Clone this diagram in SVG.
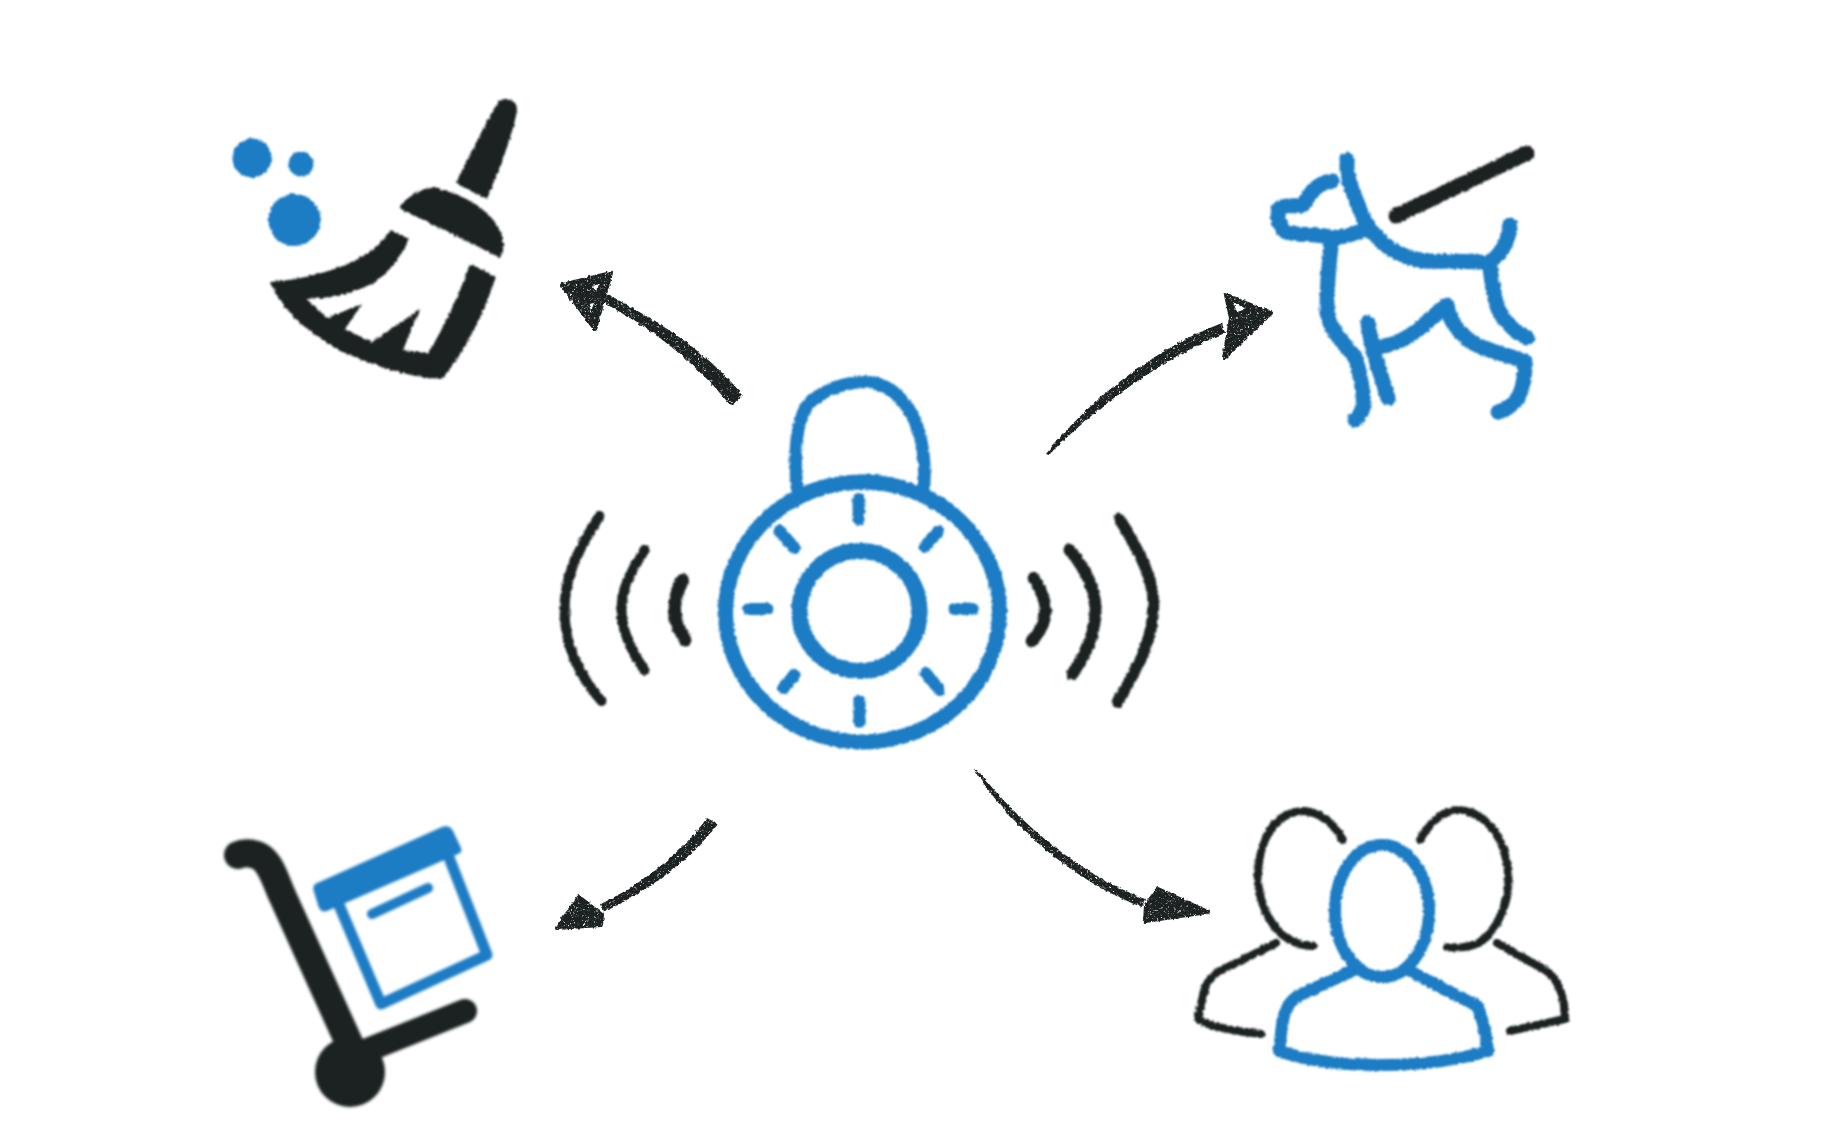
<svg xmlns="http://www.w3.org/2000/svg" width="1827" height="1142" viewBox="0 0 1827 1142">
<style>
.b{fill:none;stroke:#1a7cc4;stroke-linecap:round;stroke-linejoin:round}
.k{fill:none;stroke:#1d2124;stroke-linecap:round;stroke-linejoin:round}
.bf{fill:#1a7cc4}
.kf{fill:#1d2124}
.hd{stroke:#1d2124;stroke-width:4;stroke-linejoin:round}
</style>
<defs>
<filter id="rough" x="-10%" y="-10%" width="120%" height="120%">
<feTurbulence type="fractalNoise" baseFrequency="0.3" numOctaves="2" seed="4" result="n"/>
<feDisplacementMap in="SourceGraphic" in2="n" scale="3.5" xChannelSelector="R" yChannelSelector="G"/>
<feGaussianBlur stdDeviation="0.9"/>
</filter>
<filter id="soft" x="-10%" y="-10%" width="120%" height="120%">
<feGaussianBlur stdDeviation="1.5"/>
</filter>
<filter id="grain" x="-10%" y="-10%" width="120%" height="120%">
<feTurbulence type="fractalNoise" baseFrequency="0.7" numOctaves="2" seed="7" result="n"/>
<feColorMatrix in="n" type="matrix" values="0 0 0 0 0 0 0 0 0 0 0 0 0 0 0 2.6 2.6 0 0 -1.25" result="m"/>
<feComposite in="SourceGraphic" in2="m" operator="in" result="g"/>
<feTurbulence type="fractalNoise" baseFrequency="0.25" numOctaves="2" seed="2" result="d"/>
<feDisplacementMap in="g" in2="d" scale="3.500" xChannelSelector="R" yChannelSelector="G"/>
<feGaussianBlur stdDeviation="0.5"/>
</filter>
</defs>
<rect width="1827" height="1142" fill="#fff"/>

<g id="connectors" filter="url(#grain)">
<g id="arrow-broom" class="kf">
<path d="M731,406 L743,395 C700,345 655,320 607,294 L604,303 C650,328 692,358 731,406 Z"/>
<path class="hd" d="M562,285 L611,273 L595,329 Z"/>
<path fill="#fff" d="M592,286 L600,284 L596,291 Z"/>
<path fill="#fff" d="M589,304 L594,303 L591,311 Z"/>
</g>
<g id="arrow-dog" class="kf">
<path d="M1046,454 L1049,455 C1085,418 1150,364 1225,333 L1222,323 C1150,350 1085,405 1046,454 Z"/>
<path class="hd" d="M1271,313 L1226,295 L1231,318 L1224,358 Z"/>
<path fill="#fff" d="M1233,302 L1246,309 L1237,312 Z"/>
</g>
<g id="arrow-trolley" class="kf">
<path d="M707,818 L718,824 C690,860 650,890 604,912 L601,904 C640,885 680,855 707,818 Z"/>
<path class="hd" d="M557,928 L579,897 L602,915 L601,925 Z"/>
</g>
<g id="arrow-people" class="kf">
<path d="M974,769 L977,769 C1010,812 1070,870 1145,899 L1142,907 C1070,880 1005,820 974,769 Z"/>
<path class="hd" d="M1208,912 L1158,889 L1146,905 L1145,921 Z"/>
</g>
</g>

<g id="node-lock" filter="url(#rough)">
<path class="b" stroke-width="12.500" d="M797,488 C794,455 796,425 806,407 C820,390 845,382 865,382 C882,382 897,392 908,408 C921,428 926,455 924,488"/>
<g transform="translate(-3.500,0)">
<ellipse class="b" stroke-width="15" cx="866" cy="612" rx="137" ry="130"/>
<ellipse class="b" stroke-width="16" cx="863" cy="611" rx="60" ry="60"/>
<g class="b" stroke-width="12">
<path d="M862,499V520"/><path d="M863,701V722"/><path d="M752,609H771"/><path d="M958,609H976"/>
<path d="M783,531L798,548"/><path d="M942,531L928,547"/><path d="M798,675L787,688"/><path d="M929,673L943,690"/>
</g>
<g class="k">
<path stroke-width="10" d="M603,516 C578,555 568,580 568,610 C568,645 582,675 605,701"/>
<path stroke-width="10" d="M648,550 C632,575 625,590 625,610 C625,630 634,650 648,670"/>
<path stroke-width="13" d="M686,580 C680,593 678,600 678,610 C678,622 683,630 689,640"/>
<path stroke-width="12" d="M1037,578 C1045,590 1049,600 1049,610 C1049,622 1044,632 1035,641"/>
<path stroke-width="12" d="M1073,550 C1090,570 1099,590 1099,610 C1099,635 1088,655 1076,674"/>
<path stroke-width="11.500" d="M1123,519 C1145,555 1157,580 1157,605 C1157,640 1140,670 1121,702"/>
</g>
</g>
</g>

<g id="node-broom" filter="url(#rough)">
<circle class="bf" cx="252" cy="158" r="19.500"/>
<circle class="bf" cx="301" cy="164" r="12.500"/>
<circle class="bf" cx="294.500" cy="220" r="26"/>
<path class="kf" d="M499,101 C505,97 517,99 517,110 C513,135 497,175 487,199 L456,183 C470,155 488,118 499,101 Z"/>
<path class="kf" d="M399,208 C408,196 420,188 433,188 C456,191 482,205 494,221 C503,234 506,246 501,258 Z"/>
<path class="kf" d="M391,230 L409,239 C401,258 389,272 373,283 C353,294 330,298 307,299 L327,318 L362,304 L345,329 L372,342 L420,309 L403,350 L428,353 C446,325 458,295 470,264 L496,277 C483,315 466,350 442,379 C425,378 410,375 398,372 C380,367 362,360 345,353 C328,345 312,333 300,323 C287,311 277,298 270,282 C300,280 330,272 352,262 C370,254 382,243 391,230 Z"/>
</g>

<g id="node-dog" filter="url(#rough)">
<path class="k" stroke-width="15" d="M1396,216 L1527,153"/>
<g class="b" stroke-width="15">
<path d="M1347,160 C1346,175 1350,185 1355,197 C1360,212 1366,226 1376,236 C1388,250 1405,258 1425,261 C1445,262 1470,260 1488,263 C1500,256 1509,242 1510,225"/>
<path d="M1332,181 C1318,183 1310,192 1303,205 C1295,207 1283,204 1279,209 C1276,218 1280,228 1286,232 C1300,236 1318,233 1333,238 C1345,237 1355,233 1365,230"/>
<path d="M1332,240 C1329,260 1327,285 1327,313 C1330,330 1345,345 1355,357 C1361,375 1363,392 1364,405 C1362,412 1360,416 1355,420"/>
<path d="M1368,323 C1370,340 1375,358 1380,373 C1384,385 1386,392 1388,398"/>
<path d="M1375,347 C1390,347 1405,340 1420,328 C1430,320 1438,311 1447,305 C1449,322 1460,334 1473,343 C1490,352 1510,355 1525,362 C1525,378 1523,392 1515,402 C1510,407 1505,410 1498,412"/>
<path d="M1490,267 C1492,285 1494,298 1498,309 C1505,322 1515,332 1527,338"/>
</g>
</g>

<g id="node-trolley" filter="url(#soft)">
<path class="k" stroke-width="28" d="M238,855 C245,852 255,853 262,858 C272,866 276,882 282,895 L350,1045"/>
<path class="k" stroke-width="24" d="M355,1055 L465,1011"/>
<circle class="kf" cx="350" cy="1072" r="35"/>
<path class="bf" d="M315,884 L442,827 C447,825 451,827 453,831 L461,848 C462,851 461,853 458,854 L327,911 C323,912 321,911 319,908 L314,892 C313,889 313,886 315,884 Z"/>
<path class="b" stroke-width="11" d="M339,905 L381,1004 L487,955 L448,855"/>
<path class="b" stroke-width="10" d="M372,914 L428,888"/>
</g>

<g id="node-people" filter="url(#rough)">
<g class="k" stroke-width="8">
<path d="M1343,840 C1333,822 1320,812 1303,811 C1280,812 1265,830 1260,857 C1255,880 1258,905 1277,930 C1288,941 1300,946 1313,946"/>
<path d="M1420,840 C1430,822 1442,811 1458,810 C1478,811 1495,825 1503,848 C1510,870 1511,890 1503,910 C1495,930 1485,943 1470,946 C1460,948 1452,948 1447,947"/>
<path d="M1276,943 L1220,971 C1210,976 1205,985 1203,995 L1198,1019 C1205,1026 1240,1032 1261,1034"/>
<path d="M1497,943 L1545,970 C1555,976 1562,990 1564,1005 L1565,1019 L1510,1031"/>
</g>
<g class="b" stroke-width="12">
<ellipse cx="1382" cy="911" rx="47" ry="66"/>
<path d="M1352,971 L1298,996 C1288,1002 1284,1012 1282,1025 L1279,1051 C1310,1062 1345,1065 1382,1065 C1420,1065 1458,1060 1488,1051 C1486,1035 1483,1018 1477,1006 L1410,971"/>
</g>
</g>
</svg>
